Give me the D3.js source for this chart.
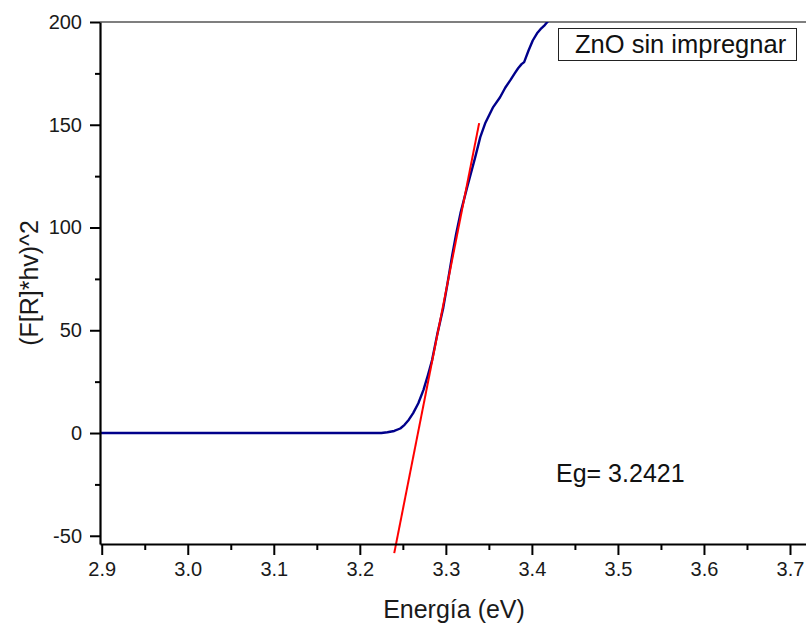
<!DOCTYPE html>
<html>
<head>
<meta charset="utf-8">
<script src="https://cdn.jsdelivr.net/npm/d3@7"></script>
<style>
  html, body { margin: 0; padding: 0; background: #fff; }
  svg { display: block; font-family: "Liberation Sans", Arial, sans-serif; }
</style>
</head>
<body>
<svg id="chart" width="806" height="626"></svg>
<script>
// Absorption edge of ZnO: Kubelka-Munk (F[R]*hv)^2 versus photon energy
const energy = [2.898, 3.00, 3.10, 3.20, 3.225, 3.232, 3.240, 3.247, 3.252, 3.257, 3.262, 3.268,
  3.274, 3.279, 3.284, 3.290, 3.297, 3.302, 3.307, 3.312, 3.317, 3.325, 3.334, 3.340, 3.346,
  3.355, 3.363, 3.369, 3.375, 3.380, 3.384, 3.388, 3.391, 3.396, 3.401, 3.406, 3.410, 3.415,
  3.419, 3.425];
const fr2 = [0, 0, 0, 0, 0, 0.4, 1.0, 2.2, 4.0, 6.5, 9.7, 14.5,
  21, 28, 35.5, 48, 61, 73, 85.6, 97, 107, 120, 134, 144, 151,
  158.6, 163.4, 168, 171.7, 175, 177.5, 179.5, 180.5, 186, 191, 194.5, 196.5, 198.5,
  200.5, 203];

// Linear fit of the edge; it meets the lower axis limit at Eg
const eg = 3.2421;
const fitSlope = 2120;          // per eV
const fitRange = [3.2400, 3.3387];

const xTicks = [2.9, 3.0, 3.1, 3.2, 3.3, 3.4, 3.5, 3.6, 3.7];
const xMinor = [2.95, 3.05, 3.15, 3.25, 3.35, 3.45, 3.55, 3.65];
const yTicks = [-50, 0, 50, 100, 150, 200];
const yMinor = [-25, 25, 75, 125, 175];

const xDomain = [2.898, 3.7186];
const yDomain = [-54, 200];

const svg = d3.select("#chart");
const plotL = 100, plotR = 806, plotT = 22, plotB = 544;

const x = d3.scaleLinear().domain(xDomain).range([plotL, plotR]);
const y = d3.scaleLinear().domain(yDomain).range([plotB, plotT]);

svg.append("defs").append("clipPath").attr("id", "plotArea")
  .append("rect").attr("x", plotL).attr("y", plotT)
  .attr("width", plotR - plotL).attr("height", plotB - plotT);

// frame line along the top
svg.append("line")
  .attr("x1", plotL).attr("x2", plotR).attr("y1", plotT).attr("y2", plotT)
  .attr("stroke", "#555").attr("stroke-width", 1.5);

// measured curve
const line = d3.line().x((d, i) => x(energy[i])).y((d, i) => y(fr2[i]));
svg.append("path")
  .datum(fr2)
  .attr("clip-path", "url(#plotArea)")
  .attr("d", line)
  .attr("fill", "none")
  .attr("stroke", "#00008b")
  .attr("stroke-width", 2.4)
  .attr("stroke-linejoin", "round");

// linear fit
const fitY = e => yDomain[0] + fitSlope * (e - eg);
svg.append("line")
  .attr("x1", x(fitRange[0])).attr("y1", y(fitY(fitRange[0])))
  .attr("x2", x(fitRange[1])).attr("y2", y(fitY(fitRange[1])))
  .attr("stroke", "#ff0000").attr("stroke-width", 2);

// axes
function styleAxis(g) {
  g.select(".domain").attr("stroke", "#000").attr("stroke-width", 2.2);
  g.selectAll(".tick line").attr("stroke", "#000").attr("stroke-width", 2);
  g.selectAll(".tick text").attr("fill", "#1a1a1a").style("font-size", "20px")
    .style("font-family", "'Liberation Sans', Arial, sans-serif");
}

svg.append("g").attr("transform", `translate(${plotL},0)`)
  .call(d3.axisLeft(y).tickValues(yMinor).tickSize(5).tickFormat(""))
  .call(g => { g.select(".domain").remove(); g.selectAll(".tick line").attr("stroke", "#000").attr("stroke-width", 2); });
svg.append("g").attr("transform", `translate(${plotL},0)`)
  .call(d3.axisLeft(y).tickValues(yTicks).tickSize(10).tickSizeOuter(0).tickPadding(8)
    .tickFormat(d => String(d)))
  .call(styleAxis);

svg.append("g").attr("transform", `translate(0,${plotB})`)
  .call(d3.axisBottom(x).tickValues(xMinor).tickSize(6).tickFormat(""))
  .call(g => { g.select(".domain").remove(); g.selectAll(".tick line").attr("stroke", "#000").attr("stroke-width", 2); });
svg.append("g").attr("transform", `translate(0,${plotB})`)
  .call(d3.axisBottom(x).tickValues(xTicks).tickSize(11).tickSizeOuter(0).tickPadding(7)
    .tickFormat(d => d.toFixed(1)))
  .call(styleAxis);

// axis titles
svg.append("text")
  .attr("x", 454).attr("y", 618)
  .attr("text-anchor", "middle")
  .style("font-size", "25px").attr("fill", "#1a1a1a")
  .text("Energía (eV)");

svg.append("text")
  .attr("transform", `translate(38,${(plotT + plotB) / 2}) rotate(-90)`)
  .attr("text-anchor", "middle")
  .style("font-size", "25px").attr("fill", "#1a1a1a")
  .text("(F[R]*hv)^2");

// legend
svg.append("rect")
  .attr("x", 558.5).attr("y", 28.5).attr("width", 238).attr("height", 32)
  .attr("fill", "#fff").attr("stroke", "#222").attr("stroke-width", 1);
svg.append("text")
  .attr("x", 575).attr("y", 53)
  .style("font-size", "25.5px").attr("fill", "#111")
  .text("ZnO sin impregnar");

// band gap annotation
svg.append("text")
  .attr("x", 556).attr("y", 482)
  .style("font-size", "25px").attr("fill", "#111")
  .text("Eg= " + eg.toFixed(4));
</script>
</body>
</html>
